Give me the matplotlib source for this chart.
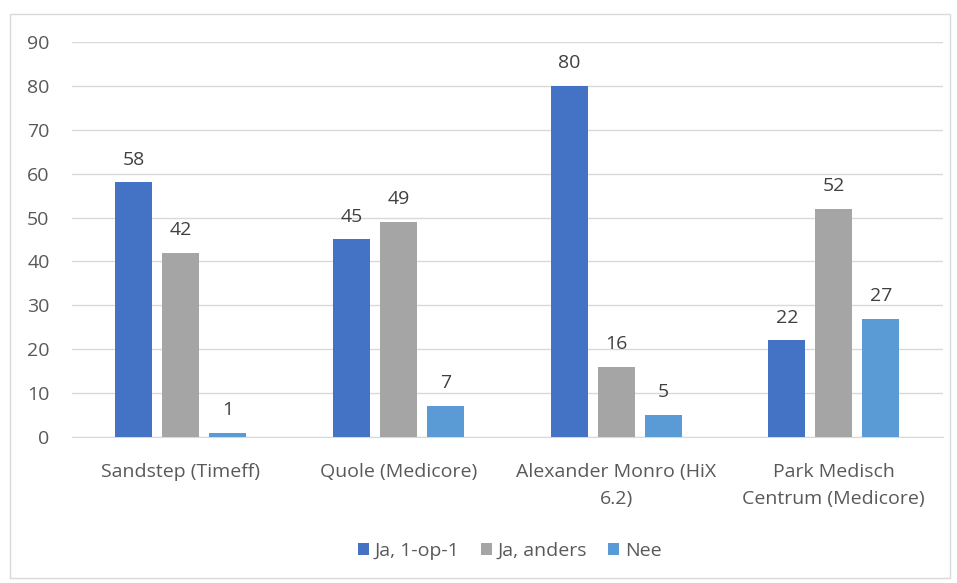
import numpy as np
import matplotlib.pyplot as plt
from matplotlib.patches import Rectangle

categories = ["Sandstep (Timeff)", "Quole (Medicore)",
              "Alexander Monro (HiX\n6.2)", "Park Medisch\nCentrum (Medicore)"]
series_names = ["Ja, 1-op-1", "Ja, anders", "Nee"]
ja_1op1 = [58, 45, 80, 22]
ja_anders = [42, 49, 16, 52]
nee = [1, 7, 5, 27]

colors = ["#4472C4", "#A5A5A5", "#5B9BD5"]
plt.rcParams["font.family"] = ["Open Sans", "DejaVu Sans"]
fs = 14

fig = plt.figure(figsize=(9.57, 5.83), dpi=100)
ax = fig.add_axes([0.075, 0.2504, 0.91, 0.6776])
fig.patches.append(Rectangle((10 / 957, 5 / 583), 940 / 957, 564 / 583,
                             transform=fig.transFigure, fill=False,
                             edgecolor="#D9D9D9", linewidth=1))

x = np.arange(len(categories))
w = 0.17
step = 0.216
for i, (vals, name) in enumerate(zip([ja_1op1, ja_anders, nee], series_names)):
    bars = ax.bar(x + (i - 1) * step, vals, w, color=colors[i], label=name, zorder=3)
    ax.bar_label(bars, padding=10, fontsize=fs, color="#404040")

ax.set_ylim(0, 90)
ax.set_xlim(-0.5, 3.5)
ax.set_yticks(range(0, 91, 10))
ax.yaxis.grid(True, color="#D9D9D9", linewidth=1)
ax.set_axisbelow(True)
for s in ["top", "right", "left"]:
    ax.spines[s].set_visible(False)
ax.spines["bottom"].set_color("#D9D9D9")
ax.tick_params(axis="both", length=0, labelsize=fs, labelcolor="#595959")
ax.tick_params(axis="y", pad=16)
ax.tick_params(axis="x", pad=19)
ax.set_xticks(x)
ax.set_xticklabels(categories, linespacing=1.6)

fig.legend(loc="center", bbox_to_anchor=(510 / 957, 1 - 551 / 583), ncol=3,
           frameon=False, fontsize=fs, handlelength=0.55, handleheight=0.55,
           handletextpad=0.3, columnspacing=1.1, labelcolor="#595959")

fig.savefig("out.png", dpi=100)
